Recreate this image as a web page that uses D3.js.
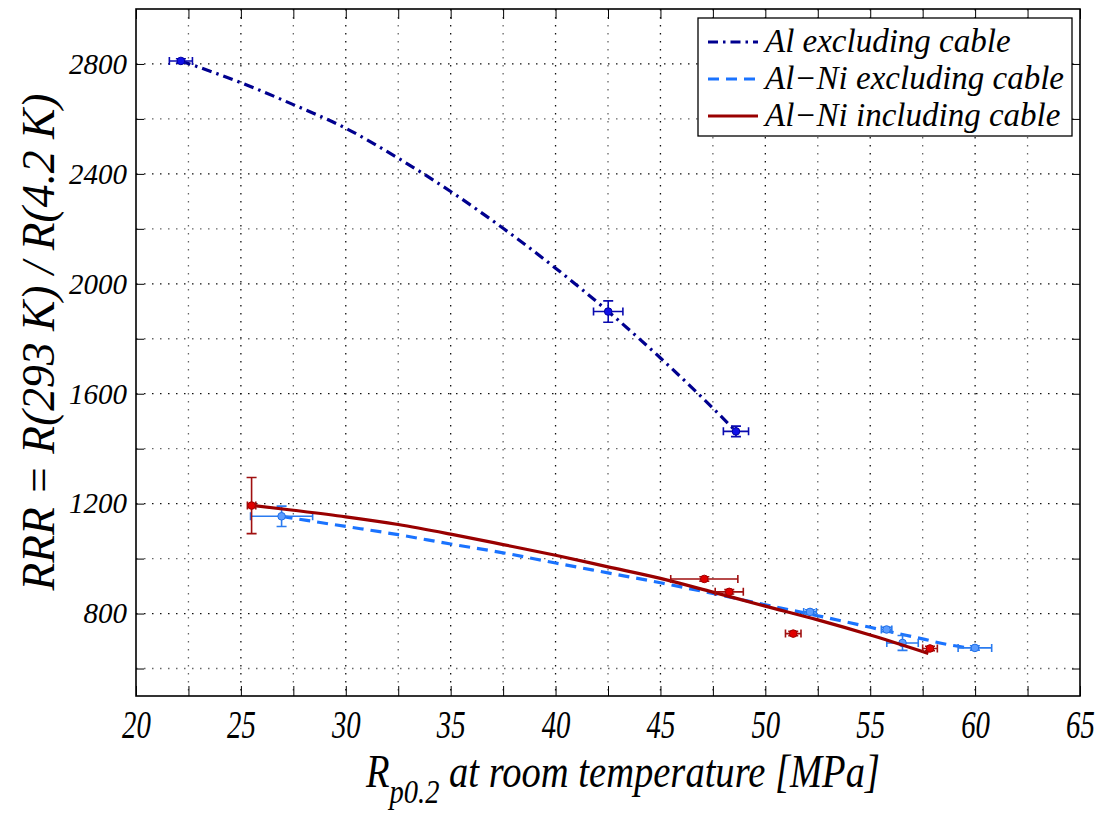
<!DOCTYPE html>
<html>
<head>
<meta charset="utf-8">
<script src="https://cdn.jsdelivr.net/npm/d3@7"></script>
</head>
<body style="margin:0">
<svg id="chart" width="1114" height="813"></svg>
<script>
// Al excluding cable (points + error bars)
var alX = [22.14, 42.51, 48.6];
var alY = [2811, 1899, 1463];
var alXErr = [0.55, 0.7, 0.6];
var alYErr = [8, 39, 19];

// Al-Ni excluding cable
var alNiX = [26.94, 52.13, 55.78, 56.54, 59.99];
var alNiY = [1154, 806, 742, 693, 675];
var alNiXErr = [1.48, 0.3, 0.25, 0.75, 0.8];
var alNiYErr = [37, 8, 8, 27, 8];

// Al-Ni including cable
var cabX = [25.51, 47.09, 48.28, 51.33, 57.85];
var cabY = [1193, 926, 879, 727, 673];
var cabXErr = [0.2, 1.6, 0.67, 0.37, 0.35];
var cabYErr = [102, 8, 8, 8, 8];

// fitted curves
var alFitX = [22.14, 25, 27.5, 30, 32.5, 35, 37.5, 40, 42.5, 45, 47, 48.6];
var alFitY = [2811, 2732, 2652, 2566, 2457, 2336, 2202, 2057, 1900, 1730, 1585, 1463];
var alNiFitX = [26.94, 28.14, 30, 32.5, 35, 37.5, 40, 42.5, 45, 47.5, 50, 52.5, 55, 56.65, 57.6, 58.5, 60];
var alNiFitY = [1154, 1139, 1117, 1087, 1053, 1021, 984, 948, 912, 873, 832, 792, 750, 722, 706, 690, 672];
var cabFitX = [25.51, 27.5, 30, 32.5, 35, 37.5, 40, 42.5, 45, 47.5, 50, 52.5, 55, 57.77];
var cabFitY = [1194, 1176, 1152, 1124, 1089, 1051, 1012, 970, 928, 878, 827, 777, 722, 655];

var legendNames = ["Al excluding cable", "Al\u2212Ni excluding cable", "Al\u2212Ni including cable"];

var xTicks = [20, 25, 30, 35, 40, 45, 50, 55, 60, 65];
var xMinor = [22.5, 27.5, 32.5, 37.5, 42.5, 47.5, 52.5, 57.5, 62.5];
var yTicks = [800, 1200, 1600, 2000, 2400, 2800];
var yMinor = [600, 1000, 1400, 1800, 2200, 2600];

var W = 1114, H = 813;
var margin = { top: 9, right: 34, bottom: 117, left: 136 };
var width = W - margin.left - margin.right;
var height = H - margin.top - margin.bottom;

var svg = d3.select("#chart");
svg.append("rect").attr("width", W).attr("height", H).attr("fill", "#fff");

var g = svg.append("g").attr("transform", "translate(" + margin.left + "," + margin.top + ")");

var x = d3.scaleLinear().domain([20, 65]).range([0, width]);
var y = d3.scaleLinear().domain([500, 3000]).range([height, 0]);

// italic serif label, like the Matlab export
function serif(sel, size) {
	return sel.attr("font-family", "Liberation Serif")
		.attr("font-style", "italic")
		.attr("font-size", size)
		.attr("fill", "#000");
}

//grid
var grid = g.append("g").attr("class", "grid");
grid.selectAll("line.vx").data(xTicks.slice(1, -1).concat(xMinor)).enter().append("line")
	.attr("x1", function(d) { return x(d); }).attr("x2", function(d) { return x(d); })
	.attr("y1", 0).attr("y2", height)
	.attr("stroke", function(d) { return xMinor.indexOf(d) >= 0 ? "#666" : "#111"; })
	.attr("stroke-width", 1.3).attr("stroke-dasharray", "1.5,6.5");
grid.selectAll("line.hy").data(yTicks.concat(yMinor)).enter().append("line")
	.attr("y1", function(d) { return y(d); }).attr("y2", function(d) { return y(d); })
	.attr("x1", 0).attr("x2", width)
	.attr("stroke", function(d) { return yMinor.indexOf(d) >= 0 ? "#666" : "#111"; })
	.attr("stroke-width", 1.3).attr("stroke-dasharray", "1.5,6.5");

//axes
var allX = xTicks.concat(xMinor).sort(d3.ascending);
var allY = yTicks.concat(yMinor).sort(d3.ascending);

var xAxis = g.append("g").attr("transform", "translate(0," + height + ")")
	.call(d3.axisBottom(x).tickValues(allX).tickSizeInner(-10).tickSizeOuter(0).tickPadding(14)
		.tickFormat(function(d) { return xTicks.indexOf(d) >= 0 ? d : ""; }));
g.append("g").call(d3.axisTop(x).tickValues(allX).tickSizeInner(-10).tickSizeOuter(0).tickFormat(""));

var yAxis = g.append("g")
	.call(d3.axisLeft(y).tickValues(allY).tickSizeInner(-8).tickSizeOuter(0).tickPadding(9)
		.tickFormat(function(d) { return yTicks.indexOf(d) >= 0 ? d : ""; }));
g.append("g").attr("transform", "translate(" + width + ",0)")
	.call(d3.axisRight(y).tickValues(allY).tickSizeInner(-8).tickSizeOuter(0).tickFormat(""));

g.selectAll(".domain").remove();
g.selectAll(".tick line").attr("stroke", "#000").attr("stroke-width", 1);

serif(xAxis.selectAll("text"), 40).attr("transform", "scale(0.72,1)");
serif(yAxis.selectAll("text"), 29);

g.append("rect").attr("width", width).attr("height", height)
	.attr("fill", "none").attr("stroke", "#000").attr("stroke-width", 1.6);

//lines
var line = d3.line()
	.x(function(d) { return x(d[0]); })
	.y(function(d) { return y(d[1]); })
	.curve(d3.curveMonotoneX);

var series = [
	{ fx: alFitX, fy: alFitY, px: alX, py: alY, ex: alXErr, ey: alYErr, line: "#00008f", dash: "10,5,2.5,5", err: "#0a0ab0", dot: "#1010e8", edge: "#0000a0" },
	{ fx: alNiFitX, fy: alNiFitY, px: alNiX, py: alNiY, ex: alNiXErr, ey: alNiYErr, line: "#1a73ff", dash: "11,7", err: "#2a7bf0", dot: "#5b9cff", edge: "#1f6fe8" },
	{ fx: cabFitX, fy: cabFitY, px: cabX, py: cabY, ex: cabXErr, ey: cabYErr, line: "#990000", dash: null, err: "#a01010", dot: "#e00000", edge: "#a00000" }
];

series.forEach(function(s) {
	var lg = g.append("g");
	lg.append("path")
		.datum(d3.zip(s.fx, s.fy))
		.attr("d", line)
		.attr("fill", "none")
		.attr("stroke", s.line)
		.attr("stroke-width", 3.2)
		.attr("stroke-dasharray", s.dash);

	var pts = d3.zip(s.px, s.py, s.ex, s.ey);
	var eb = lg.selectAll("g.pt").data(pts).enter().append("g");
	// horizontal error bars
	eb.append("path")
		.attr("d", function(d) {
			var x0 = x(d[0] - d[2]), x1 = x(d[0] + d[2]), yy = y(d[1]);
			return "M" + x0 + "," + yy + "H" + x1 +
				"M" + x0 + "," + (yy - 4) + "V" + (yy + 4) +
				"M" + x1 + "," + (yy - 4) + "V" + (yy + 4);
		})
		.attr("fill", "none").attr("stroke", s.err).attr("stroke-width", 1.6);
	// vertical error bars
	eb.append("path")
		.attr("d", function(d) {
			var y0 = y(d[1] - d[3]), y1 = y(d[1] + d[3]), xx = x(d[0]);
			return "M" + xx + "," + y0 + "V" + y1 +
				"M" + (xx - 5) + "," + y0 + "H" + (xx + 5) +
				"M" + (xx - 5) + "," + y1 + "H" + (xx + 5);
		})
		.attr("fill", "none").attr("stroke", s.err).attr("stroke-width", 1.6);
	eb.append("circle")
		.attr("cx", function(d) { return x(d[0]); })
		.attr("cy", function(d) { return y(d[1]); })
		.attr("r", 3.8)
		.attr("fill", s.dot).attr("stroke", s.edge).attr("stroke-width", 1);
});

//legend
var legend = svg.append("g").attr("transform", "translate(698,18)");
legend.append("rect").attr("width", 374).attr("height", 118)
	.attr("fill", "#fff").attr("stroke", "#000").attr("stroke-width", 1.3);
var items = legend.selectAll("g.item").data(series).enter().append("g")
	.attr("transform", function(d, i) { return "translate(0," + (24 + i * 37) + ")"; });
items.append("line")
	.attr("x1", 10).attr("x2", 60)
	.attr("stroke", function(d) { return d.line; })
	.attr("stroke-width", 3.2)
	.attr("stroke-dasharray", function(d) { return d.dash; });
serif(items.append("text"), 33)
	.attr("x", 67).attr("y", 10)
	.text(function(d, i) { return legendNames[i]; });

//axis titles
var xt = serif(svg.append("text"), 46);
xt.append("tspan").text("R");
xt.append("tspan").attr("font-size", 34).attr("dy", 16).text("p0.2");
xt.append("tspan").attr("dy", -16).text(" at room temperature [MPa]");
xt.each(function() {
	var len = this.getComputedTextLength();
	d3.select(this).attr("transform", "translate(366,787) scale(" + (514 / len) + ",1)");
});

var yt = serif(svg.append("text"), 46)
	.text("RRR = R(293 K) / R(4.2 K)");
yt.each(function() {
	var len = this.getComputedTextLength();
	d3.select(this).attr("transform", "translate(54," + (342 + 497 / 2) + ") rotate(-90) scale(" + (497 / len) + ",1)");
});
</script>
</body>
</html>
